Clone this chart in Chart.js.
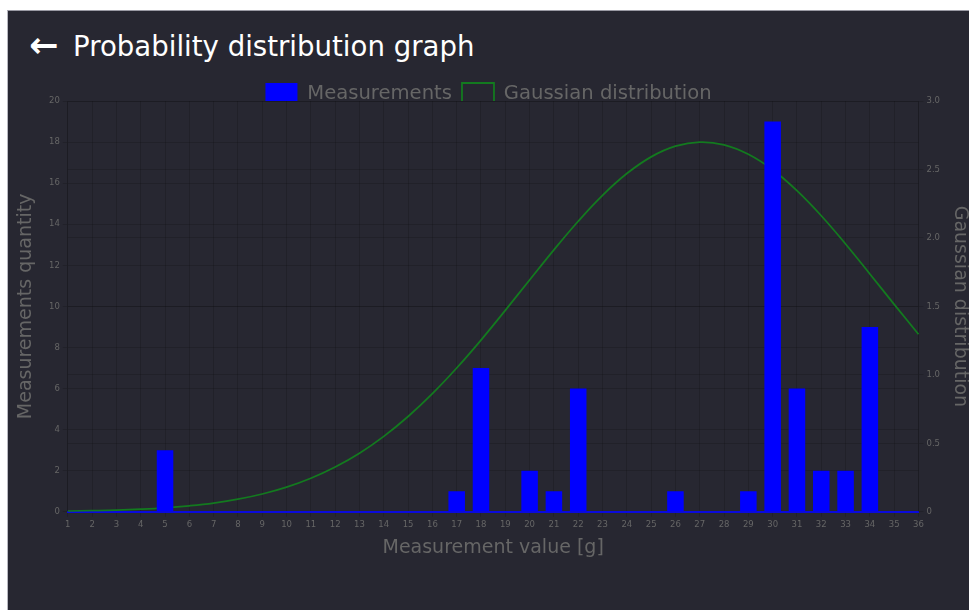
<!DOCTYPE html>
<html>

<head>
  <title>Probability distribution graph</title>
  <script src="https://cdn.jsdelivr.net/npm/chart.js"></script>
  <style>
    body { margin: 0; background: #fff; font-family: "DejaVu Sans", sans-serif; }
    #panel {
      position: absolute; left: 7px; top: 10px; right: 0; bottom: 0;
      background: #272731; border-left: 1px solid #b8b8c0; border-top: 1px solid #9a9aa4;
      overflow: hidden;
    }
    #back { position: absolute; left: 21px; top: 17px; color: #fff; font-size: 35px; font-weight: bold; line-height: 35px; }
    #title { position: absolute; left: 65px; top: 22px; color: #fff; font-size: 27.6px; line-height: 28px; }
    #wrap { position: absolute; left: 0; top: 62px; width: 961px; height: 489px; }
  </style>
</head>

<body>
  <div id="panel">
    <div id="back">&larr;</div>
    <div id="title">Probability distribution graph</div>
    <div id="wrap"><canvas id="distChart"></canvas></div>
  </div>

  <script>
    // measurement values 1..36 [g]
    const values = ['1', '2', '3', '4', '5', '6', '7', '8', '9', '10', '11', '12', '13', '14', '15', '16', '17', '18',
      '19', '20', '21', '22', '23', '24', '25', '26', '27', '28', '29', '30', '31', '32', '33', '34', '35', '36'];

    // how many measurements fell on each value
    const counts = [0, 0, 0, 0, 3, 0, 0, 0, 0, 0, 0, 0, 0, 0, 0, 0, 1, 7,
      0, 2, 1, 6, 0, 0, 0, 1, 0, 0, 1, 19, 6, 2, 2, 9, 0, 0];

    // gaussian curve
    const gauss = [0.005, 0.008, 0.012, 0.019, 0.029, 0.044, 0.064, 0.092, 0.130, 0.180, 0.245, 0.327,
      0.428, 0.551, 0.696, 0.863, 1.050, 1.254, 1.471, 1.693, 1.913, 2.122, 2.311, 2.470,
      2.592, 2.670, 2.700, 2.680, 2.611, 2.498, 2.345, 2.162, 1.956, 1.737, 1.515, 1.297];

    const textColor = '#666';
    const gridColor = 'rgba(0, 0, 0, 0.15)';
    const tickFont = { family: 'DejaVu Sans', size: 8.5 };
    const titleFont = { family: 'DejaVu Sans', size: 19, lineHeight: 1 };

    // legend is a bit shorter than chart.js wants it
    const legendTrim = {
      id: 'legendTrim',
      beforeLayout(chart) {
        const legend = chart.legend;
        if (!legend || legend._trimmed) return;
        const fit = legend.fit;
        legend.fit = function () {
          fit.call(this);
          this.height -= 14;
        };
        legend._trimmed = true;
      }
    };

    const ctx = document.getElementById('distChart').getContext('2d');
    const distChart = new Chart(ctx, {
      type: 'bar',
      data: {
        labels: values,
        datasets: [
          {
            label: 'Measurements',
            data: counts,
            backgroundColor: '#0000ff',
            borderWidth: 0,
            barPercentage: 0.85,
            yAxisID: 'y',
          },
          {
            type: 'line',
            label: 'Gaussian distribution',
            data: gauss,
            borderColor: '#137a1f',
            backgroundColor: 'transparent',
            borderWidth: 1.8,
            pointRadius: 0,
            tension: 0.4,
            fill: false,
            yAxisID: 'y1',
          },
        ],
      },
      plugins: [legendTrim],
      options: {
        responsive: true,
        maintainAspectRatio: false,
        animation: false,
        layout: { padding: 0 },
        plugins: {
          tooltip: { enabled: false },
          legend: {
            labels: {
              color: textColor,
              font: { family: 'DejaVu Sans', size: 19.6 },
              boxWidth: 32,
              boxHeight: 22,
              padding: 10,
            }
          }
        },
        scales: {
          x: {
            offset: false,
            grid: { color: gridColor, offset: false, tickLength: 5 },
            border: { color: '#0a0adc', width: 2 },
            ticks: { color: textColor, font: tickFont, maxRotation: 0, autoSkip: false },
            title: {
              display: true, text: 'Measurement value [g]', color: textColor,
              font: titleFont, padding: { top: 6, bottom: 4 }
            },
          },
          y: {
            position: 'left',
            min: 0,
            max: 20,
            ticks: { stepSize: 2, color: textColor, font: tickFont },
            grid: { color: gridColor, tickLength: 5 },
            border: { color: gridColor },
            title: {
              display: true, text: 'Measurements quantity', color: textColor,
              font: titleFont, padding: { top: 9, bottom: 10 }
            },
          },
          y1: {
            position: 'right',
            min: 0,
            max: 3,
            ticks: { stepSize: 0.5, color: textColor, font: tickFont },
            grid: { color: gridColor, tickLength: 5 },
            border: { color: gridColor },
            title: {
              display: true, text: 'Gaussian distribution', color: textColor,
              font: titleFont, padding: { top: 0, bottom: 7 }
            },
          },
        },
      },
    });
  </script>
</body>

</html>
